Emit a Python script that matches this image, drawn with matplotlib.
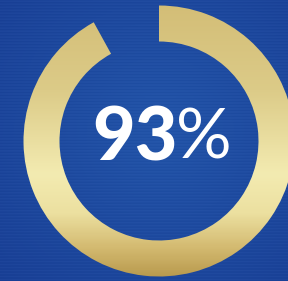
import numpy as np
import matplotlib
matplotlib.use('Agg')
import matplotlib.pyplot as plt
from matplotlib.patches import Wedge
from matplotlib.colors import LinearSegmentedColormap

# values
label_value = 93          # number printed in the middle
ring_fraction = 0.92      # share of the circle covered by the gold arc, as drawn
label_text = '93'
suffix_text = '%'

W, H = 288, 281
cx, cy = 159, H - 141
r_out, r_in = 135.5, 99.5

fig = plt.figure(figsize=(W / 100, H / 100), dpi=100)
ax = fig.add_axes([0, 0, 1, 1])
ax.set_xlim(0, W)
ax.set_ylim(0, H)
ax.axis('off')

# blue background, a little lighter in the middle, with faint horizontal lines
yy, xx = np.mgrid[0:H, 0:W]
base = np.array([0x23, 0x55, 0xa9]) / 255.0
dark = np.array([0x1a, 0x40, 0x96]) / 255.0
d = np.clip(np.hypot(xx - 160, yy - 130) / 220.0, 0, 1)[..., None]
bg = base * (1 - d) + dark * d
bg = bg + (0.012 * np.sin(yy * 2.1))[..., None]
ax.imshow(np.clip(bg, 0, 1), extent=(0, W, 0, H), zorder=0, aspect='auto')

# gold ring, drawn clockwise from 12 o'clock
theta1 = 90 + 360 * (1 - ring_fraction)
ring = Wedge((cx, cy), r_out, theta1, 450, width=r_out - r_in,
             facecolor='none', edgecolor='none')
ax.add_patch(ring)

gold = LinearSegmentedColormap.from_list('gold', [
    (0.00, '#d3bd76'),
    (0.32, '#dccb88'),
    (0.62, '#f3ebb1'),
    (0.76, '#ece0a0'),
    (0.89, '#d2b86e'),
    (1.00, '#b6964a'),
])
grad = gold(np.linspace(0, 1, H))[:, None, :3] * np.ones((1, W, 1))
img = ax.imshow(grad, extent=(0, W, 0, H), zorder=1, aspect='auto')
img.set_clip_path(ring)

ax.text(135, H - 139, label_text, color='white', fontsize=53, fontfamily='Lato',
        fontweight='black', ha='center', va='center', zorder=2)
ax.text(204, H - 139, suffix_text, color='white', fontsize=50, fontfamily='Lato',
        fontweight='normal', ha='center', va='center', zorder=2)

fig.savefig('out.png', dpi=100)
